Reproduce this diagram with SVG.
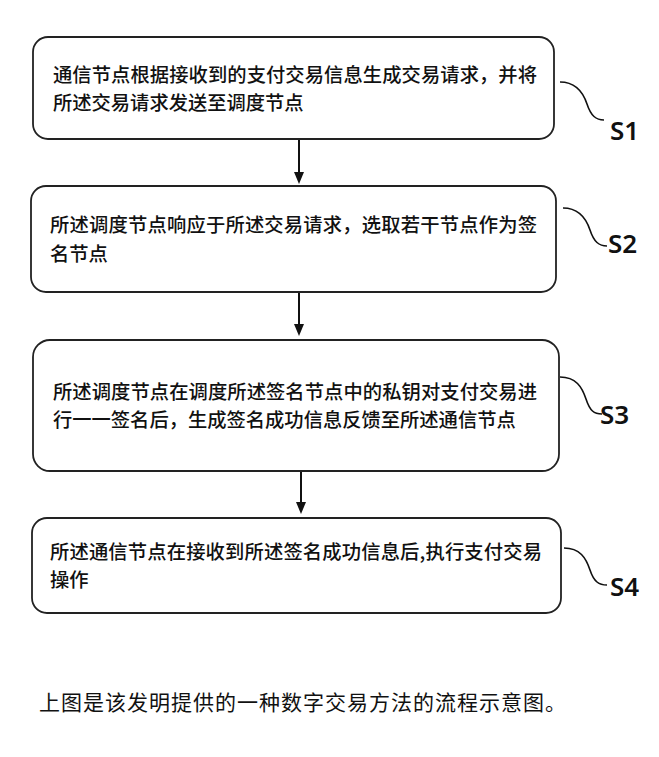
<svg xmlns="http://www.w3.org/2000/svg" width="659" height="757" viewBox="0 0 659 757">
<defs>
<style>
.box{fill:#fff;stroke:#222;stroke-width:1.8}
.t{font-family:"Noto Sans CJK SC","Noto Sans",sans-serif;font-size:19.3px;font-weight:500;fill:#111}
.lbl{font-family:"Noto Sans","Liberation Sans",sans-serif;font-size:26px;font-weight:600;fill:#111}
.lead{fill:none;stroke:#111;stroke-width:1.6}
.arr{stroke:#111;stroke-width:2;fill:none}
.cap{font-family:"Noto Sans CJK SC","Noto Sans",sans-serif;font-size:21px;font-weight:400;fill:#111}
</style>
</defs>
<rect width="659" height="757" fill="#fff"/>
<g id="connectors">
<line class="arr" x1="299" y1="140" x2="299" y2="173"/>
<path d="M294,172 L304,172 L299,184 Z" fill="#111"/>
<line class="arr" x1="299" y1="293" x2="299" y2="325"/>
<path d="M294,324 L304,324 L299,336 Z" fill="#111"/>
<line class="arr" x1="301" y1="472" x2="301" y2="503"/>
<path d="M296,502 L306,502 L301,514 Z" fill="#111"/>
</g>
<g id="s1">
<rect class="box" x="33" y="37" width="521" height="102" rx="15"/>
<text class="t" x="53" y="82" textLength="484" lengthAdjust="spacing">通信节点根据接收到的支付交易信息生成交易请求，并将</text>
<text class="t" x="53" y="110">所述交易请求发送至调度节点</text>
<path class="lead" d="M560,82 C576,82 583,92 587,104 C591,116 596,120 604,120"/>
<text class="lbl" x="610" y="140">S1</text>
</g>
<g id="s2">
<rect class="box" x="31" y="186" width="525" height="106" rx="15"/>
<text class="t" x="50" y="232" textLength="487" lengthAdjust="spacing">所述调度节点响应于所述交易请求，选取若干节点作为签</text>
<text class="t" x="50" y="261">名节点</text>
<path class="lead" d="M563,208 C579,208 586,218 590,230 C594,242 599,246 607,246"/>
<text class="lbl" x="608" y="253">S2</text>
</g>
<g id="s3">
<rect class="box" x="33" y="340" width="526" height="131" rx="17"/>
<text class="t" x="53" y="399" textLength="484" lengthAdjust="spacing">所述调度节点在调度所述签名节点中的私钥对支付交易进</text>
<text class="t" x="53" y="427">行一一签名后，生成签名成功信息反馈至所述通信节点</text>
<path class="lead" d="M560,377 C576,377 582,387 586,399 C590,411 594,414 602,414"/>
<text class="lbl" x="600" y="424">S3</text>
</g>
<g id="s4">
<rect class="box" x="32" y="518" width="529" height="95" rx="15"/>
<text class="t" x="50" y="559" textLength="492" lengthAdjust="spacing">所述通信节点在接收到所述签名成功信息后,执行支付交易</text>
<text class="t" x="50" y="587">操作</text>
<path class="lead" d="M564,548 C580,548 586,558 590,570 C594,582 599,585 607,585"/>
<text class="lbl" x="610" y="596">S4</text>
</g>
<text class="cap" x="39" y="710" textLength="527" lengthAdjust="spacing">上图是该发明提供的一种数字交易方法的流程示意图。</text>
</svg>
